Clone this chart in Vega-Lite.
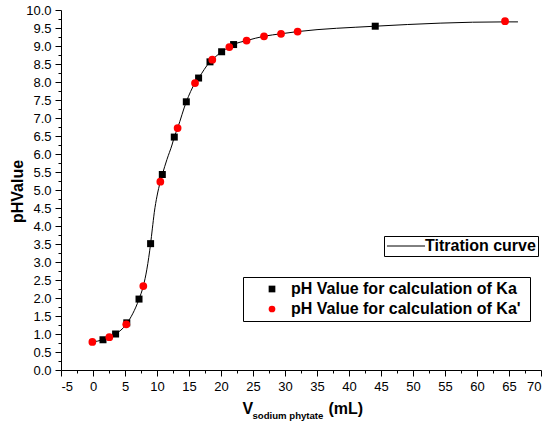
{
  "$schema": "https://vega.github.io/schema/vega-lite/v6.json",
  "width": 480,
  "height": 360,
  "autosize": {"type": "none"},
  "padding": {"left": 61, "top": 10, "right": 9, "bottom": 53},
  "background": "white",
  "config": {
    "view": {"stroke": null},
    "font": "Liberation Sans",
    "axis": {
      "labelFont": "Liberation Sans",
      "labelFontSize": 13,
      "labelColor": "black",
      "domainColor": "black",
      "domainWidth": 1,
      "tickColor": "black",
      "tickWidth": 1,
      "titleFont": "Liberation Sans",
      "titleFontWeight": "bold",
      "titleFontSize": 16,
      "titleColor": "black",
      "grid": false,
      "labelPadding": 4
    },
    "legend": {
      "labelFont": "Liberation Sans",
      "labelFontSize": 16,
      "labelFontWeight": "bold",
      "labelColor": "black",
      "strokeColor": "black",
      "symbolOpacity": 1,
      "labelLimit": 400
    }
  },
  "datasets": {
    "curve": [
      {"v": -0.1, "ph": 0.78, "s": "Titration curve"},
      {"v": 1.56, "ph": 0.84, "s": "Titration curve"},
      {"v": 2.55, "ph": 0.91, "s": "Titration curve"},
      {"v": 3.53, "ph": 1.0, "s": "Titration curve"},
      {"v": 5.2, "ph": 1.27, "s": "Titration curve"},
      {"v": 7.19, "ph": 1.97, "s": "Titration curve"},
      {"v": 7.86, "ph": 2.33, "s": "Titration curve"},
      {"v": 8.42, "ph": 2.8, "s": "Titration curve"},
      {"v": 9.0, "ph": 3.51, "s": "Titration curve"},
      {"v": 9.27, "ph": 3.92, "s": "Titration curve"},
      {"v": 9.58, "ph": 4.38, "s": "Titration curve"},
      {"v": 10.0, "ph": 4.83, "s": "Titration curve"},
      {"v": 10.52, "ph": 5.23, "s": "Titration curve"},
      {"v": 10.83, "ph": 5.43, "s": "Titration curve"},
      {"v": 11.56, "ph": 5.85, "s": "Titration curve"},
      {"v": 12.34, "ph": 6.25, "s": "Titration curve"},
      {"v": 12.7, "ph": 6.47, "s": "Titration curve"},
      {"v": 13.22, "ph": 6.72, "s": "Titration curve"},
      {"v": 14.58, "ph": 7.45, "s": "Titration curve"},
      {"v": 15.94, "ph": 7.97, "s": "Titration curve"},
      {"v": 16.5, "ph": 8.11, "s": "Titration curve"},
      {"v": 18.28, "ph": 8.56, "s": "Titration curve"},
      {"v": 18.64, "ph": 8.62, "s": "Titration curve"},
      {"v": 20.1, "ph": 8.84, "s": "Titration curve"},
      {"v": 21.3, "ph": 8.97, "s": "Titration curve"},
      {"v": 21.97, "ph": 9.04, "s": "Titration curve"},
      {"v": 24.0, "ph": 9.15, "s": "Titration curve"},
      {"v": 26.72, "ph": 9.27, "s": "Titration curve"},
      {"v": 29.38, "ph": 9.34, "s": "Titration curve"},
      {"v": 31.97, "ph": 9.4, "s": "Titration curve"},
      {"v": 44.1, "ph": 9.55, "s": "Titration curve"},
      {"v": 64.38, "ph": 9.67, "s": "Titration curve"},
      {"v": 66.4, "ph": 9.67, "s": "Titration curve"}
    ],
    "ka": [
      {"v": 1.56, "ph": 0.84, "set": "pH Value for  calculation of Ka"},
      {"v": 3.53, "ph": 1.0, "set": "pH Value for  calculation of Ka"},
      {"v": 5.28, "ph": 1.31, "set": "pH Value for  calculation of Ka"},
      {"v": 7.19, "ph": 1.97, "set": "pH Value for  calculation of Ka"},
      {"v": 9.0, "ph": 3.51, "set": "pH Value for  calculation of Ka"},
      {"v": 10.83, "ph": 5.43, "set": "pH Value for  calculation of Ka"},
      {"v": 12.7, "ph": 6.47, "set": "pH Value for  calculation of Ka"},
      {"v": 14.58, "ph": 7.45, "set": "pH Value for  calculation of Ka"},
      {"v": 16.5, "ph": 8.11, "set": "pH Value for  calculation of Ka"},
      {"v": 18.28, "ph": 8.56, "set": "pH Value for  calculation of Ka"},
      {"v": 20.1, "ph": 8.84, "set": "pH Value for  calculation of Ka"},
      {"v": 21.97, "ph": 9.04, "set": "pH Value for  calculation of Ka"},
      {"v": 44.1, "ph": 9.55, "set": "pH Value for  calculation of Ka"}
    ],
    "ka2": [
      {"v": -0.1, "ph": 0.78, "set": "pH Value for calculation of  Ka'"},
      {"v": 2.55, "ph": 0.91, "set": "pH Value for calculation of  Ka'"},
      {"v": 5.2, "ph": 1.27, "set": "pH Value for calculation of  Ka'"},
      {"v": 7.86, "ph": 2.33, "set": "pH Value for calculation of  Ka'"},
      {"v": 10.52, "ph": 5.23, "set": "pH Value for calculation of  Ka'"},
      {"v": 13.22, "ph": 6.72, "set": "pH Value for calculation of  Ka'"},
      {"v": 15.94, "ph": 7.97, "set": "pH Value for calculation of  Ka'"},
      {"v": 18.64, "ph": 8.62, "set": "pH Value for calculation of  Ka'"},
      {"v": 21.3, "ph": 8.97, "set": "pH Value for calculation of  Ka'"},
      {"v": 24.0, "ph": 9.15, "set": "pH Value for calculation of  Ka'"},
      {"v": 26.72, "ph": 9.27, "set": "pH Value for calculation of  Ka'"},
      {"v": 29.38, "ph": 9.34, "set": "pH Value for calculation of  Ka'"},
      {"v": 31.97, "ph": 9.4, "set": "pH Value for calculation of  Ka'"},
      {"v": 64.38, "ph": 9.69, "set": "pH Value for calculation of  Ka'"}
    ]
  },
  "layer": [
    {
      "data": {"name": "curve"},
      "mark": {"type": "line", "interpolate": "monotone", "strokeWidth": 1},
      "encoding": {
        "x": {
          "field": "v", "type": "quantitative",
          "scale": {"domain": [-5, 70], "nice": false, "zero": false},
          "axis": {
            "orient": "bottom",
            "values": [-5, 0, 5, 10, 15, 20, 25, 30, 35, 40, 45, 50, 55, 60, 65, 70],
            "labelExpr": "'' + datum.value",
            "tickSize": 6,
            "title": "V",
            "titleX": 181,
            "titleY": 43,
            "titleAlign": "left",
            "titleBaseline": "alphabetic",
            "titleAnchor": null
          }
        },
        "y": {
          "field": "ph", "type": "quantitative",
          "scale": {"domain": [0, 10], "nice": false, "zero": false},
          "axis": {
            "orient": "left",
            "values": [0, 0.5, 1, 1.5, 2, 2.5, 3, 3.5, 4, 4.5, 5, 5.5, 6, 6.5, 7, 7.5, 8, 8.5, 9, 9.5, 10],
            "format": ".1f",
            "labelOverlap": false,
            "tickSize": 6,
            "title": "pHValue",
            "titleAngle": -90,
            "titleX": -39,
            "titleY": 181,
            "titleAlign": "center",
            "titleBaseline": "alphabetic",
            "titleAnchor": null
          }
        },
        "stroke": {
          "field": "s", "type": "nominal",
          "scale": {"domain": ["Titration curve"], "range": ["black"]},
          "legend": {
            "orient": "none",
            "legendX": 323,
            "legendY": 226,
            "title": null,
            "padding": 2,
            "symbolType": "M-5,0H5",
            "symbolSize": 58,
            "symbolStrokeWidth": 1,
            "symbolStrokeColor": "black",
            "symbolOffset": 12,
            "labelOffset": 11
          }
        }
      }
    },
    {
      "data": {"name": "ka"},
      "mark": {"type": "point", "filled": true, "opacity": 1, "size": 49},
      "encoding": {
        "x": {
          "field": "v", "type": "quantitative",
          "scale": {"domain": [-5, 70], "nice": false, "zero": false},
          "axis": {
            "orient": "bottom", "domain": false, "labels": false,
            "values": [-2.5, 2.5, 7.5, 12.5, 17.5, 22.5, 27.5, 32.5, 37.5, 42.5, 47.5, 52.5, 57.5, 62.5, 67.5],
            "tickSize": 3,
            "title": "sodium phytate",
            "titleFontSize": 9.6,
            "titleX": 191,
            "titleY": 48,
            "titleAlign": "left",
            "titleBaseline": "alphabetic",
            "titleAnchor": null
          }
        },
        "y": {
          "field": "ph", "type": "quantitative",
          "scale": {"domain": [0, 10], "nice": false, "zero": false},
          "axis": {
            "orient": "left", "domain": false, "labels": false, "title": null,
            "values": [0.25, 0.75, 1.25, 1.75, 2.25, 2.75, 3.25, 3.75, 4.25, 4.75, 5.25, 5.75, 6.25, 6.75, 7.25, 7.75, 8.25, 8.75, 9.25, 9.75],
            "tickSize": 3
          }
        },
        "color": {
          "field": "set", "type": "nominal",
          "scale": {"domain": ["pH Value for  calculation of Ka", "pH Value for calculation of  Ka'"], "range": ["black", "#ff0000"]},
          "legend": {
            "orient": "none",
            "legendX": 182,
            "legendY": 267,
            "title": null,
            "padding": 4,
            "symbolSize": 45,
            "symbolOffset": 17,
            "labelOffset": 11,
            "rowPadding": 4,
            "labelLimit": 400,
            "labelExpr": "datum.label + ' '"
          }
        },
        "shape": {
          "field": "set", "type": "nominal",
          "scale": {"domain": ["pH Value for  calculation of Ka", "pH Value for calculation of  Ka'"], "range": ["square", "circle"]},
          "legend": {
            "orient": "none",
            "legendX": 182,
            "legendY": 267,
            "title": null,
            "padding": 4,
            "symbolSize": 45,
            "symbolOffset": 17,
            "labelOffset": 11,
            "rowPadding": 4,
            "labelLimit": 400,
            "labelExpr": "datum.label + ' '"
          }
        }
      }
    },
    {
      "data": {"name": "ka2"},
      "mark": {"type": "point", "filled": true, "opacity": 1, "size": 60},
      "encoding": {
        "x": {
          "field": "v", "type": "quantitative",
          "scale": {"domain": [-5, 70], "nice": false, "zero": false},
          "axis": {
            "orient": "bottom", "domain": false, "ticks": false, "labels": false,
            "title": "(mL)",
            "titleX": 267,
            "titleY": 43,
            "titleAlign": "left",
            "titleBaseline": "alphabetic",
            "titleAnchor": null
          }
        },
        "y": {
          "field": "ph", "type": "quantitative",
          "scale": {"domain": [0, 10], "nice": false, "zero": false},
          "axis": null
        },
        "color": {"field": "set", "type": "nominal"},
        "shape": {"field": "set", "type": "nominal"}
      }
    }
  ],
  "resolve": {"scale": {"x": "independent", "y": "independent"}, "axis": {"x": "independent", "y": "independent"}}
}
